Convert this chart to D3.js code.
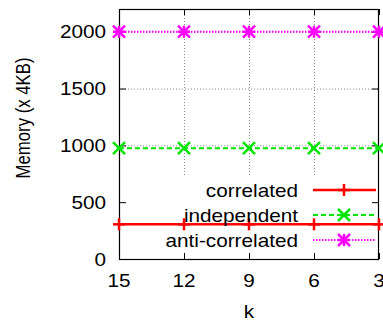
<!DOCTYPE html>
<html lang="en">
<head>
<meta charset="UTF-8">
<title>Memory vs k</title>
<script src="https://d3js.org/d3.v7.min.js"></script>
<style>
    body { margin: 0; background: #fff; }
    text { font-family: "Liberation Sans", Arial, sans-serif; fill: #000; }
</style>
</head>
<body>
<div id="chart"></div>
<script>
    // data
    const ks = [15, 12, 9, 6, 3];
    const correlated = [305, 305, 305, 305, 305];
    const independent = [975, 975, 975, 975, 975];
    const antiCorrelated = [2000, 2000, 2000, 2000, 2000];
    const yTicks = [0, 500, 1000, 1500, 2000];
    const seriesNames = ["correlated", "independent", "anti-correlated"];

    const width = 383, height = 324;
    const plotLeft = 119, plotRight = 379, plotTop = 9, plotBottom = 259;

    const x = d3.scaleLinear().domain([15, 3]).range([plotLeft, plotRight]);
    const y = d3.scaleLinear().domain([0, 2200]).range([plotBottom, plotTop]);

    const svg = d3.select("#chart").append("svg")
        .attr("width", width)
        .attr("height", height);

    // the source image is a bit wider than tall, so text looks stretched
    function stretch(sel, f) {
        sel.each(function() {
            const len = this.getComputedTextLength();
            d3.select(this).attr("textLength", len * f).attr("lengthAdjust", "spacingAndGlyphs");
        });
        return sel;
    }

    // grid
    const grid = svg.append("g").attr("stroke", "#888").attr("stroke-width", 1)
        .attr("stroke-dasharray", "1,2");
    grid.selectAll(".gy").data(yTicks.filter(d => d > 0)).enter().append("line")
        .attr("x1", plotLeft).attr("x2", plotRight)
        .attr("y1", d => y(d) + 0.5).attr("y2", d => y(d) + 0.5);
    grid.selectAll(".gx").data(ks.filter(d => d != 15 && d != 3)).enter().append("line")
        .attr("x1", d => x(d) + 0.5).attr("x2", d => x(d) + 0.5)
        .attr("y1", plotTop).attr("y2", plotBottom);

    // key background hides the grid behind it
    svg.append("rect")
        .attr("x", plotLeft + 1).attr("y", 177)
        .attr("width", plotRight - plotLeft - 2).attr("height", plotBottom - 178)
        .attr("fill", "#fff");

    // ticks (inward, mirrored)
    const tk = svg.append("g").attr("stroke", "#000").attr("stroke-width", 1);
    yTicks.forEach(d => {
        tk.append("line").attr("x1", plotLeft).attr("x2", plotLeft + 7).attr("y1", y(d) + 0.5).attr("y2", y(d) + 0.5);
        tk.append("line").attr("x1", plotRight - 7).attr("x2", plotRight).attr("y1", y(d) + 0.5).attr("y2", y(d) + 0.5);
    });
    ks.forEach(d => {
        tk.append("line").attr("x1", x(d) + 0.5).attr("x2", x(d) + 0.5).attr("y1", plotBottom).attr("y2", plotBottom - 6);
        tk.append("line").attr("x1", x(d) + 0.5).attr("x2", x(d) + 0.5).attr("y1", plotTop).attr("y2", plotTop + 6);
    });

    // border
    svg.append("rect")
        .attr("x", plotLeft + 0.5).attr("y", plotTop + 0.5)
        .attr("width", plotRight - plotLeft - 1).attr("height", plotBottom - plotTop)
        .attr("fill", "none").attr("stroke", "#000").attr("stroke-width", 1.2);

    // tick labels
    svg.append("g").selectAll("text").data(yTicks).enter().append("text")
        .attr("x", 106).attr("y", d => y(d) + 6.5)
        .attr("text-anchor", "end").style("font-size", "18.5px")
        .text(d => d)
        .call(stretch, 1.12);
    svg.append("g").selectAll("text").data(ks).enter().append("text")
        .attr("x", d => x(d)).attr("y", 287)
        .attr("text-anchor", "middle").style("font-size", "18.5px")
        .text(d => d)
        .call(stretch, 1.12);

    // axis titles
    svg.append("text").attr("x", x(9)).attr("y", 318)
        .attr("text-anchor", "middle").style("font-size", "18.5px").text("k")
        .call(stretch, 1.12);
    svg.append("text").attr("transform", "translate(30,118) rotate(-90)")
        .attr("text-anchor", "middle").style("font-size", "21px")
        .attr("textLength", 121).attr("lengthAdjust", "spacingAndGlyphs")
        .text("Memory (x 4KB)");

    // series
    const styles = [
        { color: "#ff0000", width: 2.5, dash: null, mark: "plus" },
        { color: "#00e600", width: 2, dash: "5,3", mark: "cross" },
        { color: "#ff00ff", width: 2, dash: "1.5,1.5", mark: "star" }
    ];
    const allSeries = [correlated, independent, antiCorrelated];

    function marker(g, type, cx, cy, color) {
        const s = 6;
        const segs = [];
        if (type === "plus" || type === "star") {
            segs.push([cx - s, cy, cx + s, cy], [cx, cy - s, cx, cy + s]);
        }
        if (type === "cross" || type === "star") {
            segs.push([cx - s, cy - s, cx + s, cy + s], [cx - s, cy + s, cx + s, cy - s]);
        }
        segs.forEach(p => g.append("line")
            .attr("x1", p[0]).attr("y1", p[1]).attr("x2", p[2]).attr("y2", p[3])
            .attr("stroke", color).attr("stroke-width", 2.5));
    }

    const line = d3.line().x(d => x(d[0])).y(d => y(d[1]));
    const plot = svg.append("g");
    allSeries.forEach((vals, i) => {
        const st = styles[i];
        const pts = ks.map((k, j) => [k, vals[j]]);
        plot.append("path").datum(pts)
            .attr("d", line)
            .attr("fill", "none")
            .attr("stroke", st.color)
            .attr("stroke-width", st.width)
            .attr("stroke-dasharray", st.dash);
        pts.forEach(p => marker(plot, st.mark, x(p[0]), y(p[1]), st.color));
    });

    // legend
    const key = svg.append("g");
    seriesNames.forEach((name, i) => {
        const st = styles[i];
        const ry = 190 + i * 25;
        key.append("text").attr("x", 298).attr("y", ry + 6.7)
            .attr("text-anchor", "end").style("font-size", "18.5px").text(name)
            .call(stretch, 1.12);
        key.append("line").attr("x1", 313).attr("x2", 376).attr("y1", ry).attr("y2", ry)
            .attr("stroke", st.color).attr("stroke-width", st.width)
            .attr("stroke-dasharray", st.dash);
        marker(key, st.mark, 344, ry, st.color);
    });
</script>
</body>
</html>
